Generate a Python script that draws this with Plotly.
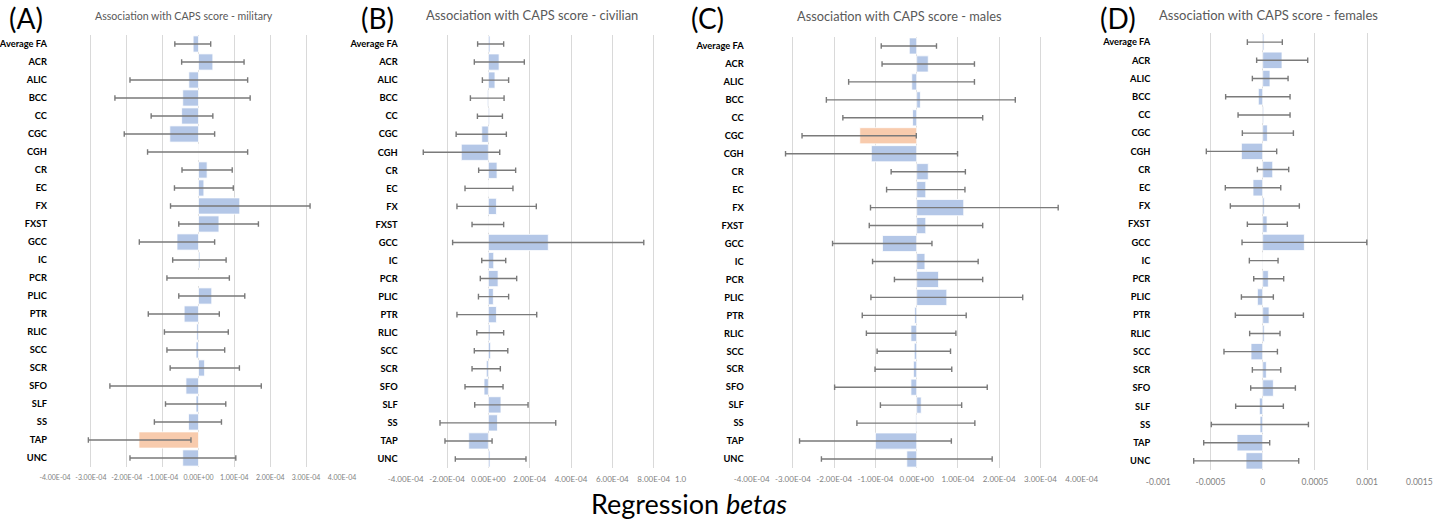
import numpy as np
import plotly.graph_objects as go

W, H = 1447, 525

categories = ["Average FA", "ACR", "ALIC", "BCC", "CC", "CGC", "CGH", "CR", "EC", "FX", "FXST", "GCC",
              "IC", "PCR", "PLIC", "PTR", "RLIC", "SCC", "SCR", "SFO", "SLF", "SS", "TAP", "UNC"]

# (A) military
beta_A = [-0.15e-4, 0.40e-4, -0.27e-4, -0.44e-4, -0.47e-4, -0.80e-4, -0.01e-4, 0.24e-4, 0.15e-4, 1.15e-4, 0.57e-4, -0.60e-4,
          0.04e-4, 0.00e-4, 0.37e-4, -0.40e-4, -0.05e-4, -0.07e-4, 0.17e-4, -0.35e-4, -0.07e-4, -0.28e-4, -1.66e-4, -0.44e-4]
lo_A = [-0.66e-4, -0.47e-4, -1.91e-4, -2.33e-4, -1.32e-4, -2.07e-4, -1.42e-4, -0.46e-4, -0.67e-4, -0.78e-4, -0.55e-4, -1.65e-4,
        -0.72e-4, -0.88e-4, -0.55e-4, -1.40e-4, -0.95e-4, -0.88e-4, -0.79e-4, -2.47e-4, -0.92e-4, -1.23e-4, -3.07e-4, -1.91e-4]
hi_A = [0.34e-4, 1.27e-4, 1.37e-4, 1.44e-4, 0.40e-4, 0.45e-4, 1.37e-4, 0.94e-4, 0.97e-4, 3.11e-4, 1.67e-4, 0.45e-4,
        0.77e-4, 0.86e-4, 1.29e-4, 0.58e-4, 0.83e-4, 0.73e-4, 1.14e-4, 1.75e-4, 0.76e-4, 0.64e-4, -0.21e-4, 1.04e-4]
highlight_A = ["TAP"]

# (B) civilian
beta_B = [0.08e-4, 0.52e-4, 0.32e-4, -0.05e-4, 0.06e-4, -0.32e-4, -1.31e-4, 0.42e-4, 0.02e-4, 0.39e-4, 0.02e-4, 2.90e-4,
          0.26e-4, 0.47e-4, 0.24e-4, 0.39e-4, 0.08e-4, 0.11e-4, -0.10e-4, -0.21e-4, 0.61e-4, 0.44e-4, -0.95e-4, 0.08e-4]
lo_B = [-0.52e-4, -0.68e-4, -0.29e-4, -0.87e-4, -0.53e-4, -1.56e-4, -3.15e-4, -0.47e-4, -1.13e-4, -1.52e-4, -0.79e-4, -1.73e-4,
        -0.32e-4, -0.39e-4, -0.48e-4, -1.52e-4, -0.56e-4, -0.68e-4, -0.79e-4, -1.13e-4, -0.66e-4, -2.34e-4, -2.10e-4, -1.60e-4]
hi_B = [0.74e-4, 1.74e-4, 0.98e-4, 0.76e-4, 0.68e-4, 0.87e-4, 0.55e-4, 1.32e-4, 1.19e-4, 2.32e-4, 0.74e-4, 7.52e-4,
        0.84e-4, 1.37e-4, 0.98e-4, 2.34e-4, 0.74e-4, 0.94e-4, 0.58e-4, 0.71e-4, 1.92e-4, 3.26e-4, 0.18e-4, 1.82e-4]
highlight_B = []

# (C) males
beta_C = [-0.18e-4, 0.28e-4, -0.12e-4, 0.09e-4, -0.10e-4, -1.38e-4, -1.10e-4, 0.28e-4, 0.22e-4, 1.14e-4, 0.22e-4, -0.83e-4,
          0.20e-4, 0.53e-4, 0.73e-4, -0.05e-4, -0.14e-4, -0.06e-4, -0.08e-4, -0.14e-4, 0.11e-4, -0.02e-4, -1.00e-4, -0.24e-4]
lo_C = [-0.86e-4, -0.84e-4, -1.65e-4, -2.19e-4, -1.79e-4, -2.78e-4, -3.18e-4, -0.62e-4, -0.73e-4, -1.12e-4, -1.15e-4, -2.04e-4,
        -1.07e-4, -0.54e-4, -1.11e-4, -1.32e-4, -1.22e-4, -0.96e-4, -1.01e-4, -1.99e-4, -0.88e-4, -1.45e-4, -2.84e-4, -2.31e-4]
hi_C = [0.48e-4, 1.40e-4, 1.40e-4, 2.39e-4, 1.60e-4, -0.01e-4, 0.99e-4, 1.18e-4, 1.17e-4, 3.43e-4, 1.60e-4, 0.37e-4,
        1.49e-4, 1.60e-4, 2.57e-4, 1.20e-4, 0.95e-4, 0.82e-4, 0.85e-4, 1.71e-4, 1.09e-4, 1.41e-4, 0.84e-4, 1.83e-4]
highlight_C = ["CGC"]

# (D) females
beta_D = [0.13e-4, 1.85e-4, 0.70e-4, -0.42e-4, 0.10e-4, 0.45e-4, -2.04e-4, 0.96e-4, -0.93e-4, 0.16e-4, 0.42e-4, 3.99e-4,
          0.02e-4, 0.54e-4, -0.51e-4, 0.61e-4, 0.16e-4, -1.12e-4, 0.35e-4, 1.02e-4, -0.32e-4, -0.26e-4, -2.46e-4, -1.60e-4]
lo_D = [-1.47e-4, -0.58e-4, -0.99e-4, -3.55e-4, -2.36e-4, -1.95e-4, -5.40e-4, -0.51e-4, -3.58e-4, -3.10e-4, -1.47e-4, -1.98e-4,
        -1.28e-4, -0.86e-4, -2.04e-4, -2.62e-4, -1.25e-4, -3.71e-4, -0.99e-4, -1.15e-4, -2.59e-4, -4.92e-4, -5.65e-4, -6.61e-4]
hi_D = [1.88e-4, 4.31e-4, 2.43e-4, 2.62e-4, 2.62e-4, 2.94e-4, 1.34e-4, 2.49e-4, 1.73e-4, 3.51e-4, 2.36e-4, 9.97e-4,
        1.47e-4, 2.01e-4, 1.02e-4, 3.90e-4, 1.66e-4, 1.41e-4, 1.73e-4, 3.13e-4, 1.98e-4, 4.38e-4, 0.67e-4, 3.45e-4]
highlight_D = []

titles = ["Association with CAPS score - military", "Association with CAPS score - civilian",
          "Association with CAPS score - males", "Association with CAPS score - females"]
panel_letters = ["(A)", "(B)", "(C)", "(D)"]

ticks_E = [-4e-4, -3e-4, -2e-4, -1e-4, 0, 1e-4, 2e-4, 3e-4, 4e-4]
ticktext_E = ["-4.00E-04", "-3.00E-04", "-2.00E-04", "-1.00E-04", "0.00E+00", "1.00E-04", "2.00E-04", "3.00E-04", "4.00E-04"]
ticks_B = [-4e-4, -2e-4, 0, 2e-4, 4e-4, 6e-4, 8e-4]
ticktext_B = ["-4.00E-04", "-2.00E-04", "0.00E+00", "2.00E-04", "4.00E-04", "6.00E-04", "8.00E-04"]
# the 1.00E-03 label of panel B is cut off in the source figure, leaving "1.0"
cut_tick_B = [9.3e-4]
cut_ticktext_B = ["1.0"]
ticks_D = [-0.001, -0.0005, 0, 0.0005, 0.001, 0.0015]
ticktext_D = ["-0.001", "-0.0005", "0", "0.0005", "0.001", "0.0015"]

BLUE = "#b4c7e7"
ORANGE = "#f8cbad"
ERR = "#7a7a7a"
GRID = "#d9d9d9"
FONT = "Lato"

# layout geometry (pixels)
panels = [
    dict(beta=beta_A, lo=lo_A, hi=hi_A, hl=highlight_A, xpx=(55, 342), ypx=(35, 467), rng=[-4e-4, 4e-4],
         tv=ticks_E, tt=ticktext_E, tfs=7),
    dict(beta=beta_B, lo=lo_B, hi=hi_B, hl=highlight_B, xpx=(405.7, 684.7), ypx=(35, 468), rng=[-4e-4, 9.5e-4],
         tv=ticks_B, tt=ticktext_B, tfs=8),
    dict(beta=beta_C, lo=lo_C, hi=hi_C, hl=highlight_C, xpx=(751.7, 1081.7), ypx=(37, 468), rng=[-4e-4, 4e-4],
         tv=ticks_E, tt=ticktext_E, tfs=8),
    dict(beta=beta_D, lo=lo_D, hi=hi_D, hl=highlight_D, xpx=(1158.3, 1419.3), ypx=(33, 470), rng=[-0.001, 0.0015],
         tv=ticks_D, tt=ticktext_D, tfs=8.5),
]

fig = go.Figure()
layout = dict(width=W, height=H, margin=dict(l=0, r=0, t=0, b=0), paper_bgcolor="white",
              plot_bgcolor="white", showlegend=False, bargap=0.1, template="none")

for i, p in enumerate(panels):
    sfx = "" if i == 0 else str(i + 1)
    beta = np.array(p["beta"])
    plus = np.array(p["hi"]) - beta
    minus = beta - np.array(p["lo"])
    colors = [ORANGE if c in p["hl"] else BLUE for c in categories]
    fig.add_trace(go.Bar(
        x=beta, y=categories, orientation="h", xaxis="x" + sfx, yaxis="y" + sfx,
        marker=dict(color=colors, line=dict(color="white", width=0.8)),
        error_x=dict(type="data", symmetric=False, array=plus, arrayminus=minus,
                     color=ERR, thickness=1.4, width=2.8),
    ))
    x0, x1 = p["xpx"]
    y0, y1 = p["ypx"]
    layout["xaxis" + sfx] = dict(
        domain=[x0 / W, x1 / W], range=p["rng"], anchor="y" + sfx, automargin=False,
        tickvals=p["tv"], ticktext=p["tt"], tickangle=0, showgrid=True, gridcolor=GRID, gridwidth=1,
        zeroline=True, zerolinecolor=GRID, zerolinewidth=1, showline=False, ticklabelstandoff=5,
        tickfont=dict(family=FONT, size=p["tfs"], color="#7f7f7f"), ticks="", fixedrange=True,
    )
    layout["yaxis" + sfx] = dict(
        domain=[1 - y1 / H, 1 - y0 / H], anchor="x" + sfx, type="category", automargin=False,
        categoryorder="array", categoryarray=categories, autorange="reversed",
        showgrid=False, zeroline=False, showline=False, ticks="", ticklabelstandoff=7,
        tickfont=dict(family=FONT, size=9.3, color="black", weight="bold"),
    )

# overlay axis carrying the truncated label of panel B (an empty trace makes plotly draw it)
pB = panels[1]
fig.add_trace(go.Scatter(x=[None], y=[None], xaxis="x5", yaxis="y2", mode="markers",
                         hoverinfo="skip", showlegend=False))
layout["xaxis5"] = dict(
    domain=[pB["xpx"][0] / W, pB["xpx"][1] / W], range=pB["rng"], anchor="y2", overlaying="x2",
    automargin=False, tickvals=cut_tick_B, ticktext=cut_ticktext_B, tickangle=0, showgrid=False,
    zeroline=False, showline=False, ticks="", ticklabelstandoff=5, side="bottom",
    tickfont=dict(family=FONT, size=8, color="#7f7f7f"), fixedrange=True,
)

title_pos = [(184, 16, 10.6), (532, 15, 12.9), (899, 16, 12.8), (1268, 15, 13)]
letter_pos = [(26, 18), (377, 18), (707, 18), (1118, 18)]
annotations = []
for t, (cx, cy, fs) in zip(titles, title_pos):
    annotations.append(dict(text=t, x=cx / W, y=1 - cy / H, xref="paper", yref="paper",
                            xanchor="center", yanchor="middle", showarrow=False,
                            font=dict(family=FONT, size=fs, color="#595959")))
for t, (cx, cy) in zip(panel_letters, letter_pos):
    annotations.append(dict(text=t, x=cx / W, y=1 - cy / H, xref="paper", yref="paper",
                            xanchor="center", yanchor="middle", showarrow=False,
                            font=dict(family=FONT, size=28, color="black")))
annotations.append(dict(text="Regression <i>betas</i>", x=689 / W, y=1 - 503 / H, xref="paper", yref="paper",
                        xanchor="center", yanchor="middle", showarrow=False,
                        font=dict(family=FONT, size=27, color="black")))
layout["annotations"] = annotations
fig.update_layout(**layout)

fig.write_html("out.html")
